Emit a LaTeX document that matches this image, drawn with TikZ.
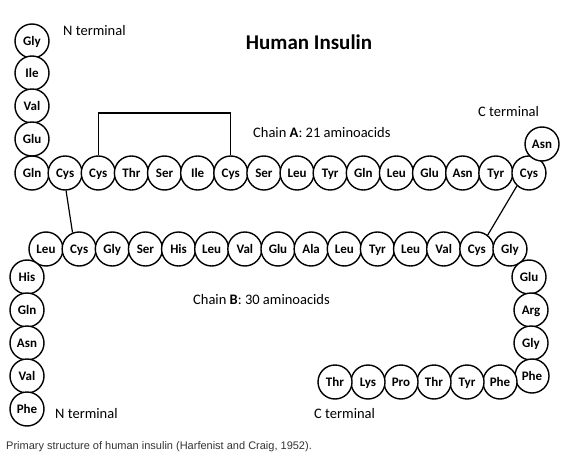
\documentclass[tikz,border=0pt]{standalone}
\usepackage{fontspec}
\setmainfont{Carlito}
\newfontfamily\capfont{Liberation Sans}
\begin{document}
\begin{tikzpicture}[x=1pt,y=-1pt,
  aa/.style={circle,draw,line width=1.4pt,minimum size=34pt,inner sep=0pt,text height=8.4pt,text depth=0pt,fill=white,font=\fontsize{13}{14}\selectfont\bfseries},
  lbl/.style={anchor=west,inner sep=0pt,font=\fontsize{14.5}{16}\selectfont},
  bond/.style={line width=1.2pt}]
\useasboundingbox (0,0) rectangle (567,457);
% Chain A vertical
\foreach \n/\t/\y in {a1/Gly/41,a2/Ile/73,a3/Val/106,a4/Glu/139}
  \node[aa] (\n) at (32,\y) {\t};
% Chain A row
\foreach \n/\t [count=\i from 0] in {a5/Gln,a6/Cys,a7/Cys,a8/Thr,a9/Ser,a10/Ile,a11/Cys,a12/Ser,a13/Leu,a14/Tyr,a15/Gln,a16/Leu,a17/Glu,a18/Asn,a19/Tyr,a20/Cys}
  \node[aa] (\n) at ({32+33.13*\i},173) {\t};
\node[aa] (a21) at (542,144) {Asn};
% Chain B row
\foreach \n/\t [count=\i from 0] in {b6/Leu,b7/Cys,b8/Gly,b9/Ser,b10/His,b11/Leu,b12/Val,b13/Glu,b14/Ala,b15/Leu,b16/Tyr,b17/Leu,b18/Val,b19/Cys,b20/Gly}
  \node[aa] (\n) at ({46+33.14*\i},249) {\t};
% Chain B left column
\foreach \n/\t/\y in {b5/His/277,b4/Gln/310,b3/Asn/343,b2/Val/376,b1/Phe/409}
  \node[aa] (\n) at (27,\y) {\t};
% Chain B right column
\foreach \n/\t/\x/\y in {b21/Glu/529/277,b22/Arg/531/310,b23/Gly/531/343,b24/Phe/532/376}
  \node[aa] (\n) at (\x,\y) {\t};
% Chain B bottom row
\foreach \n/\t/\x in {b25/Phe/500,b26/Tyr/467,b27/Thr/434,b28/Pro/401,b29/Lys/368,b30/Thr/335}
  \node[aa] (\n) at (\x,382) {\t};
% disulfide bonds
\draw[bond] (a7.north) |- (99,113) coordinate (ka) -| (a11.north);
\draw[bond] (a6.-87) -- (b7.112);
\draw[bond] (a20.-133) -- (b19.52);
% texts
\node[anchor=center,font=\fontsize{21}{24}\selectfont\bfseries] (title) at (309,42) {Human Insulin};
\node[lbl] (nta) at (63,31) {N terminal};
\node[lbl] (cta) at (478,112) {C terminal};
\node[lbl] (cha) at (253,133) {Chain \textbf{A}: 21 aminoacids};
\node[lbl] (chb) at (193,300) {Chain \textbf{B}: 30 aminoacids};
\node[lbl] (ntb) at (55,414) {N terminal};
\node[lbl] (ctb) at (314,414) {C terminal};
\node[anchor=west,inner sep=0pt,text=black!80,font=\capfont\fontsize{11}{12}\selectfont] (cap) at (6,447) {Primary structure of human insulin (Harfenist and Craig, 1952).};
\end{tikzpicture}
\end{document}
